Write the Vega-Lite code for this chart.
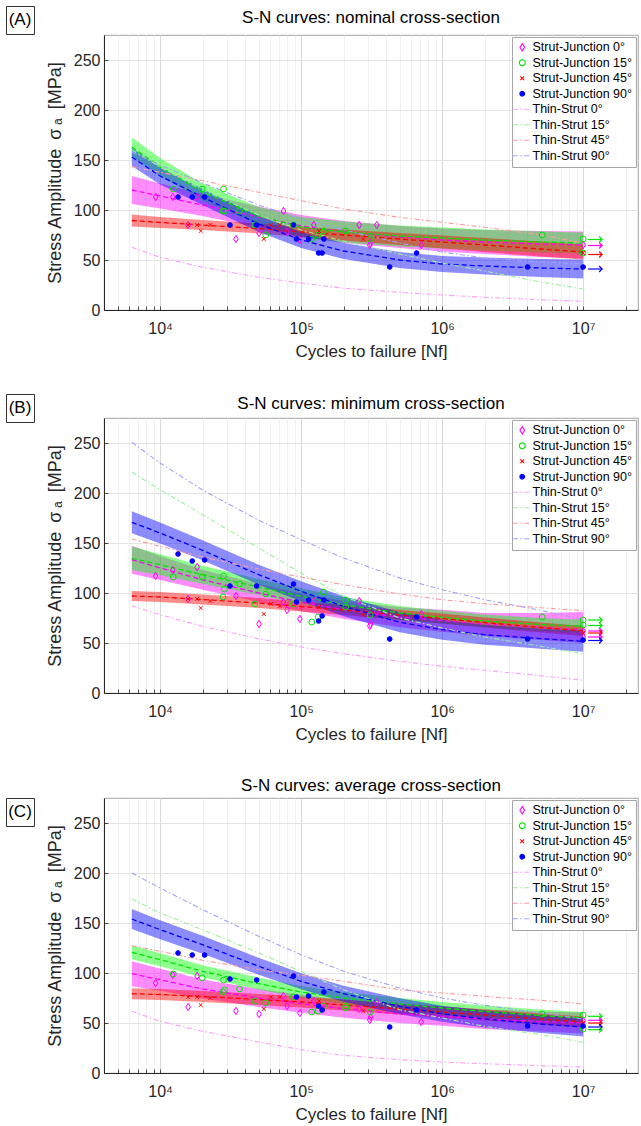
{
"$schema": "https://vega.github.io/schema/vega-lite/v6.json",
"padding": {"left": 5, "top": 5, "right": 0, "bottom": 0},
"config": {
 "font": "Liberation Sans",
 "view": {"stroke": "#8c8c8c", "strokeWidth": 0.8},
 "title": {"fontSize": 17, "fontWeight": "normal", "offset": 3, "color": "#000000", "font": "Liberation Sans"},
 "axis": {"labelFontSize": 16, "titleFontSize": 17, "titleFontWeight": "normal", "labelColor": "#262626", "titleColor": "#262626", "domainColor": "#262626", "ticks": true, "tickSize": -4, "tickColor": "#262626", "tickWidth": 0.8, "gridColor": "#e3e3e3", "labelFont": "Liberation Sans", "titleFont": "Liberation Sans"},
 "axisX": {"labelPadding": 14, "titlePadding": 7},
 "axisY": {"labelPadding": 8, "titlePadding": 9, "titleFontSize": 18},
 "legend": {"orient": "top-right", "offset": 2, "fillColor": "#ffffff", "strokeColor": "#a6a6a6", "padding": 4, "labelFontSize": 12.5, "labelColor": "#000000", "rowPadding": 2.5, "symbolStrokeWidth": 1.1, "labelOffset": 4, "labelFont": "Liberation Sans"}
},
"datasets": {
"pts": [
{"p":"A","series":"Strut-Junction 0°","N":9300,"s":113},{"p":"A","series":"Strut-Junction 0°","N":12300,"s":113},{"p":"A","series":"Strut-Junction 0°","N":15800,"s":85},{"p":"A","series":"Strut-Junction 0°","N":18300,"s":113},{"p":"A","series":"Strut-Junction 0°","N":34500,"s":71},{"p":"A","series":"Strut-Junction 0°","N":50300,"s":77},{"p":"A","series":"Strut-Junction 0°","N":75000,"s":99},{"p":"A","series":"Strut-Junction 0°","N":79500,"s":78},{"p":"A","series":"Strut-Junction 0°","N":98000,"s":70},{"p":"A","series":"Strut-Junction 0°","N":123000,"s":85},{"p":"A","series":"Strut-Junction 0°","N":258000,"s":85},{"p":"A","series":"Strut-Junction 0°","N":344000,"s":85},{"p":"A","series":"Strut-Junction 0°","N":307000,"s":65},{"p":"A","series":"Strut-Junction 0°","N":311000,"s":67},{"p":"A","series":"Strut-Junction 0°","N":711000,"s":65},{"p":"A","series":"Strut-Junction 0°","N":10000000,"s":65},
{"p":"A","series":"Strut-Junction 15°","N":12400,"s":121},{"p":"A","series":"Strut-Junction 15°","N":19900,"s":121},{"p":"A","series":"Strut-Junction 15°","N":28200,"s":121},{"p":"A","series":"Strut-Junction 15°","N":27900,"s":99},{"p":"A","series":"Strut-Junction 15°","N":28600,"s":99},{"p":"A","series":"Strut-Junction 15°","N":36600,"s":99},{"p":"A","series":"Strut-Junction 15°","N":47000,"s":85},{"p":"A","series":"Strut-Junction 15°","N":56100,"s":75},{"p":"A","series":"Strut-Junction 15°","N":88000,"s":85},{"p":"A","series":"Strut-Junction 15°","N":119000,"s":71},{"p":"A","series":"Strut-Junction 15°","N":132000,"s":75},{"p":"A","series":"Strut-Junction 15°","N":144000,"s":79},{"p":"A","series":"Strut-Junction 15°","N":207000,"s":79},{"p":"A","series":"Strut-Junction 15°","N":309000,"s":71},{"p":"A","series":"Strut-Junction 15°","N":5130000,"s":75},{"p":"A","series":"Strut-Junction 15°","N":10000000,"s":71},{"p":"A","series":"Strut-Junction 15°","N":10000000,"s":57},
{"p":"A","series":"Strut-Junction 45°","N":15800,"s":85},{"p":"A","series":"Strut-Junction 45°","N":18300,"s":85},{"p":"A","series":"Strut-Junction 45°","N":19400,"s":79},{"p":"A","series":"Strut-Junction 45°","N":22700,"s":85},{"p":"A","series":"Strut-Junction 45°","N":54300,"s":71},{"p":"A","series":"Strut-Junction 45°","N":61000,"s":85},{"p":"A","series":"Strut-Junction 45°","N":70600,"s":85},{"p":"A","series":"Strut-Junction 45°","N":134000,"s":79},{"p":"A","series":"Strut-Junction 45°","N":276000,"s":71},{"p":"A","series":"Strut-Junction 45°","N":10000000,"s":57},
{"p":"A","series":"Strut-Junction 90°","N":13400,"s":113},{"p":"A","series":"Strut-Junction 90°","N":16900,"s":113},{"p":"A","series":"Strut-Junction 90°","N":20700,"s":113},{"p":"A","series":"Strut-Junction 90°","N":31300,"s":85},{"p":"A","series":"Strut-Junction 90°","N":48400,"s":85},{"p":"A","series":"Strut-Junction 90°","N":88300,"s":85},{"p":"A","series":"Strut-Junction 90°","N":92700,"s":71},{"p":"A","series":"Strut-Junction 90°","N":113000,"s":71},{"p":"A","series":"Strut-Junction 90°","N":145000,"s":71},{"p":"A","series":"Strut-Junction 90°","N":133000,"s":57},{"p":"A","series":"Strut-Junction 90°","N":141000,"s":57},{"p":"A","series":"Strut-Junction 90°","N":425000,"s":43},{"p":"A","series":"Strut-Junction 90°","N":659000,"s":57},{"p":"A","series":"Strut-Junction 90°","N":4040000,"s":43},{"p":"A","series":"Strut-Junction 90°","N":10000000,"s":43},
{"p":"B","series":"Strut-Junction 0°","N":9300,"s":117},{"p":"B","series":"Strut-Junction 0°","N":12300,"s":123},{"p":"B","series":"Strut-Junction 0°","N":15800,"s":94},{"p":"B","series":"Strut-Junction 0°","N":18300,"s":126},{"p":"B","series":"Strut-Junction 0°","N":34500,"s":97},{"p":"B","series":"Strut-Junction 0°","N":50300,"s":69},{"p":"B","series":"Strut-Junction 0°","N":75000,"s":91},{"p":"B","series":"Strut-Junction 0°","N":79500,"s":83},{"p":"B","series":"Strut-Junction 0°","N":98000,"s":74},{"p":"B","series":"Strut-Junction 0°","N":123000,"s":92},{"p":"B","series":"Strut-Junction 0°","N":258000,"s":92},{"p":"B","series":"Strut-Junction 0°","N":344000,"s":81},{"p":"B","series":"Strut-Junction 0°","N":307000,"s":67},{"p":"B","series":"Strut-Junction 0°","N":311000,"s":69},{"p":"B","series":"Strut-Junction 0°","N":711000,"s":79},{"p":"B","series":"Strut-Junction 0°","N":10000000,"s":62},{"p":"B","series":"Strut-Junction 0°","N":10000000,"s":56},
{"p":"B","series":"Strut-Junction 15°","N":12400,"s":116},{"p":"B","series":"Strut-Junction 15°","N":19900,"s":116},{"p":"B","series":"Strut-Junction 15°","N":28200,"s":117},{"p":"B","series":"Strut-Junction 15°","N":27900,"s":96},{"p":"B","series":"Strut-Junction 15°","N":28600,"s":104},{"p":"B","series":"Strut-Junction 15°","N":36600,"s":109},{"p":"B","series":"Strut-Junction 15°","N":47000,"s":89},{"p":"B","series":"Strut-Junction 15°","N":56100,"s":99},{"p":"B","series":"Strut-Junction 15°","N":88000,"s":89},{"p":"B","series":"Strut-Junction 15°","N":119000,"s":71},{"p":"B","series":"Strut-Junction 15°","N":132000,"s":76},{"p":"B","series":"Strut-Junction 15°","N":144000,"s":101},{"p":"B","series":"Strut-Junction 15°","N":207000,"s":93},{"p":"B","series":"Strut-Junction 15°","N":207000,"s":86},{"p":"B","series":"Strut-Junction 15°","N":309000,"s":78},{"p":"B","series":"Strut-Junction 15°","N":5130000,"s":76},{"p":"B","series":"Strut-Junction 15°","N":10000000,"s":73},{"p":"B","series":"Strut-Junction 15°","N":10000000,"s":68},
{"p":"B","series":"Strut-Junction 45°","N":15800,"s":94},{"p":"B","series":"Strut-Junction 45°","N":18300,"s":94},{"p":"B","series":"Strut-Junction 45°","N":19400,"s":85},{"p":"B","series":"Strut-Junction 45°","N":22700,"s":92},{"p":"B","series":"Strut-Junction 45°","N":54300,"s":79},{"p":"B","series":"Strut-Junction 45°","N":61000,"s":89},{"p":"B","series":"Strut-Junction 45°","N":70600,"s":87},{"p":"B","series":"Strut-Junction 45°","N":134000,"s":86},{"p":"B","series":"Strut-Junction 45°","N":276000,"s":78},{"p":"B","series":"Strut-Junction 45°","N":10000000,"s":60},
{"p":"B","series":"Strut-Junction 90°","N":13400,"s":139},{"p":"B","series":"Strut-Junction 90°","N":16900,"s":132},{"p":"B","series":"Strut-Junction 90°","N":20700,"s":133},{"p":"B","series":"Strut-Junction 90°","N":31300,"s":107},{"p":"B","series":"Strut-Junction 90°","N":48400,"s":107},{"p":"B","series":"Strut-Junction 90°","N":88300,"s":109},{"p":"B","series":"Strut-Junction 90°","N":92700,"s":91},{"p":"B","series":"Strut-Junction 90°","N":113000,"s":93},{"p":"B","series":"Strut-Junction 90°","N":145000,"s":93},{"p":"B","series":"Strut-Junction 90°","N":133000,"s":72},{"p":"B","series":"Strut-Junction 90°","N":141000,"s":77},{"p":"B","series":"Strut-Junction 90°","N":425000,"s":54},{"p":"B","series":"Strut-Junction 90°","N":659000,"s":76},{"p":"B","series":"Strut-Junction 90°","N":4040000,"s":54},{"p":"B","series":"Strut-Junction 90°","N":10000000,"s":53},
{"p":"C","series":"Strut-Junction 0°","N":9300,"s":90},{"p":"C","series":"Strut-Junction 0°","N":12300,"s":98},{"p":"C","series":"Strut-Junction 0°","N":15800,"s":66},{"p":"C","series":"Strut-Junction 0°","N":18300,"s":97},{"p":"C","series":"Strut-Junction 0°","N":34500,"s":62},{"p":"C","series":"Strut-Junction 0°","N":50300,"s":59},{"p":"C","series":"Strut-Junction 0°","N":75000,"s":77},{"p":"C","series":"Strut-Junction 0°","N":79500,"s":67},{"p":"C","series":"Strut-Junction 0°","N":98000,"s":60},{"p":"C","series":"Strut-Junction 0°","N":123000,"s":72},{"p":"C","series":"Strut-Junction 0°","N":258000,"s":64},{"p":"C","series":"Strut-Junction 0°","N":344000,"s":71},{"p":"C","series":"Strut-Junction 0°","N":307000,"s":53},{"p":"C","series":"Strut-Junction 0°","N":311000,"s":56},{"p":"C","series":"Strut-Junction 0°","N":711000,"s":51},{"p":"C","series":"Strut-Junction 0°","N":10000000,"s":52},
{"p":"C","series":"Strut-Junction 15°","N":12400,"s":99},{"p":"C","series":"Strut-Junction 15°","N":19900,"s":95},{"p":"C","series":"Strut-Junction 15°","N":28200,"s":93},{"p":"C","series":"Strut-Junction 15°","N":27900,"s":81},{"p":"C","series":"Strut-Junction 15°","N":28600,"s":83},{"p":"C","series":"Strut-Junction 15°","N":36600,"s":84},{"p":"C","series":"Strut-Junction 15°","N":47000,"s":72},{"p":"C","series":"Strut-Junction 15°","N":56100,"s":70},{"p":"C","series":"Strut-Junction 15°","N":88000,"s":76},{"p":"C","series":"Strut-Junction 15°","N":119000,"s":61},{"p":"C","series":"Strut-Junction 15°","N":132000,"s":62},{"p":"C","series":"Strut-Junction 15°","N":144000,"s":67},{"p":"C","series":"Strut-Junction 15°","N":207000,"s":67},{"p":"C","series":"Strut-Junction 15°","N":207000,"s":65},{"p":"C","series":"Strut-Junction 15°","N":309000,"s":61},{"p":"C","series":"Strut-Junction 15°","N":5130000,"s":59},{"p":"C","series":"Strut-Junction 15°","N":10000000,"s":58},{"p":"C","series":"Strut-Junction 15°","N":10000000,"s":44},
{"p":"C","series":"Strut-Junction 45°","N":15800,"s":76},{"p":"C","series":"Strut-Junction 45°","N":18300,"s":76},{"p":"C","series":"Strut-Junction 45°","N":19400,"s":68},{"p":"C","series":"Strut-Junction 45°","N":22700,"s":75},{"p":"C","series":"Strut-Junction 45°","N":54300,"s":64},{"p":"C","series":"Strut-Junction 45°","N":61000,"s":76},{"p":"C","series":"Strut-Junction 45°","N":70600,"s":76},{"p":"C","series":"Strut-Junction 45°","N":134000,"s":72},{"p":"C","series":"Strut-Junction 45°","N":276000,"s":62},{"p":"C","series":"Strut-Junction 45°","N":10000000,"s":50},
{"p":"C","series":"Strut-Junction 90°","N":13400,"s":120},{"p":"C","series":"Strut-Junction 90°","N":16900,"s":118},{"p":"C","series":"Strut-Junction 90°","N":20700,"s":118},{"p":"C","series":"Strut-Junction 90°","N":31300,"s":94},{"p":"C","series":"Strut-Junction 90°","N":48400,"s":93},{"p":"C","series":"Strut-Junction 90°","N":88300,"s":97},{"p":"C","series":"Strut-Junction 90°","N":92700,"s":76},{"p":"C","series":"Strut-Junction 90°","N":113000,"s":77},{"p":"C","series":"Strut-Junction 90°","N":145000,"s":81},{"p":"C","series":"Strut-Junction 90°","N":133000,"s":67},{"p":"C","series":"Strut-Junction 90°","N":141000,"s":63},{"p":"C","series":"Strut-Junction 90°","N":425000,"s":46},{"p":"C","series":"Strut-Junction 90°","N":659000,"s":63},{"p":"C","series":"Strut-Junction 90°","N":4040000,"s":47},{"p":"C","series":"Strut-Junction 90°","N":10000000,"s":47}
],
"fit": [
{"p":"A","series":"Strut-Junction 0°","N":6300,"s":120,"lo":106,"hi":134},{"p":"A","series":"Strut-Junction 0°","N":10000,"s":114,"lo":101.5,"hi":126.5},{"p":"A","series":"Strut-Junction 0°","N":20000,"s":105,"lo":94,"hi":116},{"p":"A","series":"Strut-Junction 0°","N":50000,"s":93,"lo":82.5,"hi":103.5},{"p":"A","series":"Strut-Junction 0°","N":100000,"s":84,"lo":73,"hi":95},{"p":"A","series":"Strut-Junction 0°","N":200000,"s":78,"lo":67,"hi":89},{"p":"A","series":"Strut-Junction 0°","N":500000,"s":73,"lo":62,"hi":84},{"p":"A","series":"Strut-Junction 0°","N":1000000,"s":70,"lo":58.5,"hi":81.5},{"p":"A","series":"Strut-Junction 0°","N":2000000,"s":68,"lo":56,"hi":80},{"p":"A","series":"Strut-Junction 0°","N":5000000,"s":66,"lo":53,"hi":79},{"p":"A","series":"Strut-Junction 0°","N":10000000,"s":65,"lo":51.5,"hi":78.5},
{"p":"A","series":"Strut-Junction 15°","N":6300,"s":163,"lo":153.5,"hi":172.5},{"p":"A","series":"Strut-Junction 15°","N":10000,"s":143,"lo":134,"hi":152},{"p":"A","series":"Strut-Junction 15°","N":20000,"s":118,"lo":109.5,"hi":126.5},{"p":"A","series":"Strut-Junction 15°","N":50000,"s":94,"lo":85,"hi":103},{"p":"A","series":"Strut-Junction 15°","N":100000,"s":83,"lo":73,"hi":93},{"p":"A","series":"Strut-Junction 15°","N":200000,"s":78,"lo":67.5,"hi":88.5},{"p":"A","series":"Strut-Junction 15°","N":500000,"s":74,"lo":63.5,"hi":84.5},{"p":"A","series":"Strut-Junction 15°","N":1000000,"s":72,"lo":61.5,"hi":82.5},{"p":"A","series":"Strut-Junction 15°","N":2000000,"s":70,"lo":59.5,"hi":80.5},{"p":"A","series":"Strut-Junction 15°","N":5000000,"s":68,"lo":57.5,"hi":78.5},{"p":"A","series":"Strut-Junction 15°","N":10000000,"s":67,"lo":56.5,"hi":77.5},
{"p":"A","series":"Strut-Junction 45°","N":6300,"s":89.5,"lo":83.5,"hi":95.5},{"p":"A","series":"Strut-Junction 45°","N":10000,"s":87.5,"lo":82,"hi":93},{"p":"A","series":"Strut-Junction 45°","N":20000,"s":85,"lo":80,"hi":90},{"p":"A","series":"Strut-Junction 45°","N":50000,"s":81.5,"lo":76.5,"hi":86.5},{"p":"A","series":"Strut-Junction 45°","N":100000,"s":78,"lo":73,"hi":83},{"p":"A","series":"Strut-Junction 45°","N":200000,"s":75,"lo":69.5,"hi":80.5},{"p":"A","series":"Strut-Junction 45°","N":500000,"s":71,"lo":65,"hi":77},{"p":"A","series":"Strut-Junction 45°","N":1000000,"s":68,"lo":61.5,"hi":74.5},{"p":"A","series":"Strut-Junction 45°","N":2000000,"s":65,"lo":58,"hi":72},{"p":"A","series":"Strut-Junction 45°","N":5000000,"s":61,"lo":53.5,"hi":68.5},{"p":"A","series":"Strut-Junction 45°","N":10000000,"s":58,"lo":50.5,"hi":65.5},
{"p":"A","series":"Strut-Junction 90°","N":6300,"s":153,"lo":144,"hi":162},{"p":"A","series":"Strut-Junction 90°","N":10000,"s":134,"lo":125.5,"hi":142.5},{"p":"A","series":"Strut-Junction 90°","N":20000,"s":113,"lo":105,"hi":121},{"p":"A","series":"Strut-Junction 90°","N":50000,"s":86,"lo":78,"hi":94},{"p":"A","series":"Strut-Junction 90°","N":100000,"s":70,"lo":62,"hi":78},{"p":"A","series":"Strut-Junction 90°","N":200000,"s":59,"lo":51,"hi":67},{"p":"A","series":"Strut-Junction 90°","N":500000,"s":50,"lo":42,"hi":58},{"p":"A","series":"Strut-Junction 90°","N":1000000,"s":46,"lo":38,"hi":54},{"p":"A","series":"Strut-Junction 90°","N":2000000,"s":44,"lo":35.5,"hi":52.5},{"p":"A","series":"Strut-Junction 90°","N":5000000,"s":42,"lo":33,"hi":51},{"p":"A","series":"Strut-Junction 90°","N":10000000,"s":41,"lo":31.5,"hi":50.5},
{"p":"B","series":"Strut-Junction 0°","N":6300,"s":133.3,"lo":119.3,"hi":147.3},{"p":"B","series":"Strut-Junction 0°","N":10000,"s":125,"lo":113,"hi":137},{"p":"B","series":"Strut-Junction 0°","N":20000,"s":113.3,"lo":103.3,"hi":123.3},{"p":"B","series":"Strut-Junction 0°","N":50000,"s":100,"lo":91,"hi":109},{"p":"B","series":"Strut-Junction 0°","N":100000,"s":90.7,"lo":81.7,"hi":99.7},{"p":"B","series":"Strut-Junction 0°","N":200000,"s":83.3,"lo":74.3,"hi":92.3},{"p":"B","series":"Strut-Junction 0°","N":500000,"s":75.7,"lo":65.7,"hi":85.7},{"p":"B","series":"Strut-Junction 0°","N":1000000,"s":72.3,"lo":61.3,"hi":83.3},{"p":"B","series":"Strut-Junction 0°","N":2000000,"s":69,"lo":57,"hi":80},{"p":"B","series":"Strut-Junction 0°","N":5000000,"s":65.5,"lo":53,"hi":80},{"p":"B","series":"Strut-Junction 0°","N":10000000,"s":63.3,"lo":50,"hi":81},
{"p":"B","series":"Strut-Junction 15°","N":6300,"s":134.7,"lo":122.7,"hi":146.7},{"p":"B","series":"Strut-Junction 15°","N":10000,"s":128.3,"lo":117.8,"hi":138.8},{"p":"B","series":"Strut-Junction 15°","N":20000,"s":118.3,"lo":109.3,"hi":127.3},{"p":"B","series":"Strut-Junction 15°","N":50000,"s":106,"lo":98,"hi":114},{"p":"B","series":"Strut-Junction 15°","N":100000,"s":96.7,"lo":88.7,"hi":104.7},{"p":"B","series":"Strut-Junction 15°","N":200000,"s":88.3,"lo":80.8,"hi":95.8},{"p":"B","series":"Strut-Junction 15°","N":500000,"s":80,"lo":73,"hi":87},{"p":"B","series":"Strut-Junction 15°","N":1000000,"s":75.7,"lo":69.2,"hi":82.2},{"p":"B","series":"Strut-Junction 15°","N":2000000,"s":72,"lo":65.5,"hi":78.5},{"p":"B","series":"Strut-Junction 15°","N":5000000,"s":68.5,"lo":62,"hi":75},{"p":"B","series":"Strut-Junction 15°","N":10000000,"s":66.7,"lo":60.2,"hi":73.2},
{"p":"B","series":"Strut-Junction 45°","N":6300,"s":97,"lo":92,"hi":102},{"p":"B","series":"Strut-Junction 45°","N":10000,"s":96,"lo":91,"hi":101},{"p":"B","series":"Strut-Junction 45°","N":20000,"s":93.5,"lo":88.5,"hi":98.5},{"p":"B","series":"Strut-Junction 45°","N":50000,"s":90,"lo":85,"hi":95},{"p":"B","series":"Strut-Junction 45°","N":100000,"s":86.5,"lo":81.5,"hi":91.5},{"p":"B","series":"Strut-Junction 45°","N":200000,"s":83,"lo":78,"hi":88},{"p":"B","series":"Strut-Junction 45°","N":500000,"s":78,"lo":73,"hi":83},{"p":"B","series":"Strut-Junction 45°","N":1000000,"s":74.5,"lo":69.5,"hi":79.5},{"p":"B","series":"Strut-Junction 45°","N":2000000,"s":70.5,"lo":65.5,"hi":75.5},{"p":"B","series":"Strut-Junction 45°","N":5000000,"s":65.5,"lo":60.5,"hi":70.5},{"p":"B","series":"Strut-Junction 45°","N":10000000,"s":62,"lo":57,"hi":67},
{"p":"B","series":"Strut-Junction 90°","N":6300,"s":170.7,"lo":159.7,"hi":181.7},{"p":"B","series":"Strut-Junction 90°","N":10000,"s":160,"lo":149.5,"hi":170.5},{"p":"B","series":"Strut-Junction 90°","N":20000,"s":142.7,"lo":132.7,"hi":152.7},{"p":"B","series":"Strut-Junction 90°","N":50000,"s":118.3,"lo":108.3,"hi":128.3},{"p":"B","series":"Strut-Junction 90°","N":100000,"s":101.7,"lo":91.7,"hi":111.7},{"p":"B","series":"Strut-Junction 90°","N":200000,"s":86.7,"lo":76.7,"hi":96.7},{"p":"B","series":"Strut-Junction 90°","N":500000,"s":70.7,"lo":60.7,"hi":80.7},{"p":"B","series":"Strut-Junction 90°","N":1000000,"s":63.3,"lo":53.3,"hi":73.3},{"p":"B","series":"Strut-Junction 90°","N":2000000,"s":58.3,"lo":48.3,"hi":68.3},{"p":"B","series":"Strut-Junction 90°","N":5000000,"s":54.3,"lo":44.3,"hi":64.3},{"p":"B","series":"Strut-Junction 90°","N":10000000,"s":51.7,"lo":41.2,"hi":62.2},
{"p":"C","series":"Strut-Junction 0°","N":6300,"s":99.3,"lo":86.8,"hi":111.8},{"p":"C","series":"Strut-Junction 0°","N":10000,"s":93.3,"lo":82.3,"hi":104.3},{"p":"C","series":"Strut-Junction 0°","N":20000,"s":84,"lo":74.5,"hi":93.5},{"p":"C","series":"Strut-Junction 0°","N":50000,"s":75,"lo":66,"hi":84},{"p":"C","series":"Strut-Junction 0°","N":100000,"s":69.3,"lo":60.3,"hi":78.3},{"p":"C","series":"Strut-Junction 0°","N":200000,"s":64.3,"lo":55.3,"hi":73.3},{"p":"C","series":"Strut-Junction 0°","N":500000,"s":59,"lo":50,"hi":68},{"p":"C","series":"Strut-Junction 0°","N":1000000,"s":56.7,"lo":47.2,"hi":66.2},{"p":"C","series":"Strut-Junction 0°","N":2000000,"s":54,"lo":44,"hi":64},{"p":"C","series":"Strut-Junction 0°","N":5000000,"s":51.5,"lo":41.5,"hi":61.5},{"p":"C","series":"Strut-Junction 0°","N":10000000,"s":50,"lo":39.5,"hi":60.5},
{"p":"C","series":"Strut-Junction 15°","N":6300,"s":120.7,"lo":113.7,"hi":127.7},{"p":"C","series":"Strut-Junction 15°","N":10000,"s":113.3,"lo":106.8,"hi":119.8},{"p":"C","series":"Strut-Junction 15°","N":20000,"s":101.7,"lo":95.7,"hi":107.7},{"p":"C","series":"Strut-Junction 15°","N":50000,"s":89.3,"lo":83.3,"hi":95.3},{"p":"C","series":"Strut-Junction 15°","N":100000,"s":81,"lo":75,"hi":87},{"p":"C","series":"Strut-Junction 15°","N":200000,"s":75,"lo":69,"hi":81},{"p":"C","series":"Strut-Junction 15°","N":500000,"s":69,"lo":63,"hi":75},{"p":"C","series":"Strut-Junction 15°","N":1000000,"s":65,"lo":59,"hi":71},{"p":"C","series":"Strut-Junction 15°","N":2000000,"s":61.5,"lo":55.5,"hi":67.5},{"p":"C","series":"Strut-Junction 15°","N":5000000,"s":57.5,"lo":51.5,"hi":63.5},{"p":"C","series":"Strut-Junction 15°","N":10000000,"s":55,"lo":49,"hi":61},
{"p":"C","series":"Strut-Junction 45°","N":6300,"s":79.3,"lo":73.8,"hi":84.8},{"p":"C","series":"Strut-Junction 45°","N":10000,"s":78.5,"lo":73,"hi":84},{"p":"C","series":"Strut-Junction 45°","N":20000,"s":76.5,"lo":71,"hi":82},{"p":"C","series":"Strut-Junction 45°","N":50000,"s":73.5,"lo":68,"hi":79},{"p":"C","series":"Strut-Junction 45°","N":100000,"s":71,"lo":65.5,"hi":76.5},{"p":"C","series":"Strut-Junction 45°","N":200000,"s":68,"lo":62.5,"hi":73.5},{"p":"C","series":"Strut-Junction 45°","N":500000,"s":64,"lo":58.5,"hi":69.5},{"p":"C","series":"Strut-Junction 45°","N":1000000,"s":61,"lo":55.5,"hi":66.5},{"p":"C","series":"Strut-Junction 45°","N":2000000,"s":58,"lo":52.5,"hi":63.5},{"p":"C","series":"Strut-Junction 45°","N":5000000,"s":54,"lo":48.5,"hi":59.5},{"p":"C","series":"Strut-Junction 45°","N":10000000,"s":51,"lo":45.5,"hi":56.5},
{"p":"C","series":"Strut-Junction 90°","N":6300,"s":154,"lo":144,"hi":164},{"p":"C","series":"Strut-Junction 90°","N":10000,"s":143.3,"lo":133.8,"hi":152.8},{"p":"C","series":"Strut-Junction 90°","N":20000,"s":128.3,"lo":119.3,"hi":137.3},{"p":"C","series":"Strut-Junction 90°","N":50000,"s":106.7,"lo":98.2,"hi":115.2},{"p":"C","series":"Strut-Junction 90°","N":100000,"s":91.7,"lo":83.7,"hi":99.7},{"p":"C","series":"Strut-Junction 90°","N":200000,"s":79.3,"lo":71.3,"hi":87.3},{"p":"C","series":"Strut-Junction 90°","N":500000,"s":66.7,"lo":58.7,"hi":74.7},{"p":"C","series":"Strut-Junction 90°","N":1000000,"s":59.3,"lo":51.3,"hi":67.3},{"p":"C","series":"Strut-Junction 90°","N":2000000,"s":54,"lo":45.5,"hi":62.5},{"p":"C","series":"Strut-Junction 90°","N":5000000,"s":49,"lo":40,"hi":58},{"p":"C","series":"Strut-Junction 90°","N":10000000,"s":46,"lo":36.5,"hi":55.5}
],
"ts": [
{"p":"A","series":"Thin-Strut 0°","N":6300,"s":62.7},{"p":"A","series":"Thin-Strut 0°","N":10000,"s":52.7},{"p":"A","series":"Thin-Strut 0°","N":20000,"s":42.7},{"p":"A","series":"Thin-Strut 0°","N":50000,"s":32.7},{"p":"A","series":"Thin-Strut 0°","N":100000,"s":27},{"p":"A","series":"Thin-Strut 0°","N":200000,"s":21.7},{"p":"A","series":"Thin-Strut 0°","N":500000,"s":17.7},{"p":"A","series":"Thin-Strut 0°","N":1000000,"s":15},{"p":"A","series":"Thin-Strut 0°","N":2000000,"s":12.7},{"p":"A","series":"Thin-Strut 0°","N":5000000,"s":10.3},{"p":"A","series":"Thin-Strut 0°","N":10000000,"s":8.7},
{"p":"A","series":"Thin-Strut 15°","N":6300,"s":160},{"p":"A","series":"Thin-Strut 15°","N":10000,"s":143},{"p":"A","series":"Thin-Strut 15°","N":20000,"s":120},{"p":"A","series":"Thin-Strut 15°","N":50000,"s":95},{"p":"A","series":"Thin-Strut 15°","N":100000,"s":80},{"p":"A","series":"Thin-Strut 15°","N":200000,"s":69},{"p":"A","series":"Thin-Strut 15°","N":500000,"s":56},{"p":"A","series":"Thin-Strut 15°","N":1000000,"s":47},{"p":"A","series":"Thin-Strut 15°","N":2000000,"s":39},{"p":"A","series":"Thin-Strut 15°","N":5000000,"s":28},{"p":"A","series":"Thin-Strut 15°","N":10000000,"s":21},
{"p":"A","series":"Thin-Strut 45°","N":6300,"s":143.3},{"p":"A","series":"Thin-Strut 45°","N":10000,"s":137.7},{"p":"A","series":"Thin-Strut 45°","N":20000,"s":129.3},{"p":"A","series":"Thin-Strut 45°","N":50000,"s":117.7},{"p":"A","series":"Thin-Strut 45°","N":100000,"s":109.3},{"p":"A","series":"Thin-Strut 45°","N":200000,"s":101},{"p":"A","series":"Thin-Strut 45°","N":500000,"s":92.7},{"p":"A","series":"Thin-Strut 45°","N":1000000,"s":87.7},{"p":"A","series":"Thin-Strut 45°","N":2000000,"s":82.7},{"p":"A","series":"Thin-Strut 45°","N":5000000,"s":75.3},{"p":"A","series":"Thin-Strut 45°","N":10000000,"s":66.7},
{"p":"A","series":"Thin-Strut 90°","N":6300,"s":158},{"p":"A","series":"Thin-Strut 90°","N":10000,"s":145},{"p":"A","series":"Thin-Strut 90°","N":20000,"s":127},{"p":"A","series":"Thin-Strut 90°","N":50000,"s":105},{"p":"A","series":"Thin-Strut 90°","N":100000,"s":91},{"p":"A","series":"Thin-Strut 90°","N":200000,"s":80},{"p":"A","series":"Thin-Strut 90°","N":500000,"s":67},{"p":"A","series":"Thin-Strut 90°","N":1000000,"s":58},{"p":"A","series":"Thin-Strut 90°","N":2000000,"s":52},{"p":"A","series":"Thin-Strut 90°","N":5000000,"s":48},{"p":"A","series":"Thin-Strut 90°","N":10000000,"s":46},
{"p":"B","series":"Thin-Strut 0°","N":6300,"s":87.3},{"p":"B","series":"Thin-Strut 0°","N":10000,"s":78.3},{"p":"B","series":"Thin-Strut 0°","N":20000,"s":66.7},{"p":"B","series":"Thin-Strut 0°","N":50000,"s":54.3},{"p":"B","series":"Thin-Strut 0°","N":100000,"s":46},{"p":"B","series":"Thin-Strut 0°","N":200000,"s":39.3},{"p":"B","series":"Thin-Strut 0°","N":500000,"s":31.7},{"p":"B","series":"Thin-Strut 0°","N":1000000,"s":26.7},{"p":"B","series":"Thin-Strut 0°","N":2000000,"s":22.7},{"p":"B","series":"Thin-Strut 0°","N":5000000,"s":17.3},{"p":"B","series":"Thin-Strut 0°","N":10000000,"s":12.7},
{"p":"B","series":"Thin-Strut 15°","N":6300,"s":220.7},{"p":"B","series":"Thin-Strut 15°","N":10000,"s":203.3},{"p":"B","series":"Thin-Strut 15°","N":20000,"s":178.3},{"p":"B","series":"Thin-Strut 15°","N":50000,"s":145},{"p":"B","series":"Thin-Strut 15°","N":100000,"s":120},{"p":"B","series":"Thin-Strut 15°","N":200000,"s":96.7},{"p":"B","series":"Thin-Strut 15°","N":500000,"s":75},{"p":"B","series":"Thin-Strut 15°","N":1000000,"s":65},{"p":"B","series":"Thin-Strut 15°","N":2000000,"s":56},{"p":"B","series":"Thin-Strut 15°","N":5000000,"s":46.7},{"p":"B","series":"Thin-Strut 15°","N":10000000,"s":39.3},
{"p":"B","series":"Thin-Strut 45°","N":6300,"s":154},{"p":"B","series":"Thin-Strut 45°","N":10000,"s":146.7},{"p":"B","series":"Thin-Strut 45°","N":20000,"s":136},{"p":"B","series":"Thin-Strut 45°","N":50000,"s":124},{"p":"B","series":"Thin-Strut 45°","N":100000,"s":116},{"p":"B","series":"Thin-Strut 45°","N":200000,"s":108.3},{"p":"B","series":"Thin-Strut 45°","N":500000,"s":99},{"p":"B","series":"Thin-Strut 45°","N":1000000,"s":93.3},{"p":"B","series":"Thin-Strut 45°","N":2000000,"s":89.3},{"p":"B","series":"Thin-Strut 45°","N":5000000,"s":85.3},{"p":"B","series":"Thin-Strut 45°","N":10000000,"s":82.3},
{"p":"B","series":"Thin-Strut 90°","N":6300,"s":250.7},{"p":"B","series":"Thin-Strut 90°","N":10000,"s":230},{"p":"B","series":"Thin-Strut 90°","N":20000,"s":203},{"p":"B","series":"Thin-Strut 90°","N":50000,"s":172.7},{"p":"B","series":"Thin-Strut 90°","N":100000,"s":153.3},{"p":"B","series":"Thin-Strut 90°","N":200000,"s":135},{"p":"B","series":"Thin-Strut 90°","N":500000,"s":115},{"p":"B","series":"Thin-Strut 90°","N":1000000,"s":103.3},{"p":"B","series":"Thin-Strut 90°","N":2000000,"s":93.3},{"p":"B","series":"Thin-Strut 90°","N":5000000,"s":82.7},{"p":"B","series":"Thin-Strut 90°","N":10000000,"s":73.3},
{"p":"C","series":"Thin-Strut 0°","N":6300,"s":61.7},{"p":"C","series":"Thin-Strut 0°","N":10000,"s":51.7},{"p":"C","series":"Thin-Strut 0°","N":20000,"s":41.7},{"p":"C","series":"Thin-Strut 0°","N":50000,"s":31},{"p":"C","series":"Thin-Strut 0°","N":100000,"s":23.3},{"p":"C","series":"Thin-Strut 0°","N":200000,"s":17.7},{"p":"C","series":"Thin-Strut 0°","N":500000,"s":13.3},{"p":"C","series":"Thin-Strut 0°","N":1000000,"s":11},{"p":"C","series":"Thin-Strut 0°","N":2000000,"s":9.3},{"p":"C","series":"Thin-Strut 0°","N":5000000,"s":7.3},{"p":"C","series":"Thin-Strut 0°","N":10000000,"s":6},
{"p":"C","series":"Thin-Strut 15°","N":6300,"s":174},{"p":"C","series":"Thin-Strut 15°","N":10000,"s":160},{"p":"C","series":"Thin-Strut 15°","N":20000,"s":143.3},{"p":"C","series":"Thin-Strut 15°","N":50000,"s":120},{"p":"C","series":"Thin-Strut 15°","N":100000,"s":101.7},{"p":"C","series":"Thin-Strut 15°","N":200000,"s":83.3},{"p":"C","series":"Thin-Strut 15°","N":500000,"s":63.3},{"p":"C","series":"Thin-Strut 15°","N":1000000,"s":55},{"p":"C","series":"Thin-Strut 15°","N":2000000,"s":46.7},{"p":"C","series":"Thin-Strut 15°","N":5000000,"s":38.3},{"p":"C","series":"Thin-Strut 15°","N":10000000,"s":30.7},
{"p":"C","series":"Thin-Strut 45°","N":6300,"s":127.3},{"p":"C","series":"Thin-Strut 45°","N":10000,"s":121.7},{"p":"C","series":"Thin-Strut 45°","N":20000,"s":112.7},{"p":"C","series":"Thin-Strut 45°","N":50000,"s":103.3},{"p":"C","series":"Thin-Strut 45°","N":100000,"s":97.7},{"p":"C","series":"Thin-Strut 45°","N":200000,"s":91.7},{"p":"C","series":"Thin-Strut 45°","N":500000,"s":83.3},{"p":"C","series":"Thin-Strut 45°","N":1000000,"s":80},{"p":"C","series":"Thin-Strut 45°","N":2000000,"s":76.7},{"p":"C","series":"Thin-Strut 45°","N":5000000,"s":72.7},{"p":"C","series":"Thin-Strut 45°","N":10000000,"s":69},
{"p":"C","series":"Thin-Strut 90°","N":6300,"s":200},{"p":"C","series":"Thin-Strut 90°","N":10000,"s":185},{"p":"C","series":"Thin-Strut 90°","N":20000,"s":163.3},{"p":"C","series":"Thin-Strut 90°","N":50000,"s":136.7},{"p":"C","series":"Thin-Strut 90°","N":100000,"s":118.3},{"p":"C","series":"Thin-Strut 90°","N":200000,"s":101.7},{"p":"C","series":"Thin-Strut 90°","N":500000,"s":85},{"p":"C","series":"Thin-Strut 90°","N":1000000,"s":75},{"p":"C","series":"Thin-Strut 90°","N":2000000,"s":67.7},{"p":"C","series":"Thin-Strut 90°","N":5000000,"s":60},{"p":"C","series":"Thin-Strut 90°","N":10000000,"s":54}
],
"run": [
{"p":"A","series":"Strut-Junction 15°","N":10000000,"s":70.5},{"p":"A","series":"Strut-Junction 0°","N":10000000,"s":64.5},{"p":"A","series":"Strut-Junction 45°","N":10000000,"s":55.5},{"p":"A","series":"Strut-Junction 90°","N":10000000,"s":41},
{"p":"B","series":"Strut-Junction 15°","N":10000000,"s":73},{"p":"B","series":"Strut-Junction 15°","N":10000000,"s":67.5},{"p":"B","series":"Strut-Junction 0°","N":10000000,"s":62},{"p":"B","series":"Strut-Junction 45°","N":10000000,"s":60},{"p":"B","series":"Strut-Junction 0°","N":10000000,"s":56},{"p":"B","series":"Strut-Junction 90°","N":10000000,"s":52.5},
{"p":"C","series":"Strut-Junction 15°","N":10000000,"s":56.7},{"p":"C","series":"Strut-Junction 0°","N":10000000,"s":52.7},{"p":"C","series":"Strut-Junction 45°","N":10000000,"s":50},{"p":"C","series":"Strut-Junction 90°","N":10000000,"s":46},{"p":"C","series":"Strut-Junction 15°","N":10000000,"s":43.3}
]
},
"resolve": {"scale": {"color": "independent", "fill": "independent", "stroke": "independent", "shape": "independent", "size": "independent", "strokeDash": "independent", "x": "independent", "y": "independent"}, "legend": {"color": "independent", "fill": "independent", "stroke": "independent", "shape": "independent", "size": "independent", "strokeDash": "independent"}},
"spacing": 33,
"vconcat": [
{
 "spacing": 10,
 "resolve": {"scale": {"color": "independent", "fill": "independent", "stroke": "independent", "shape": "independent", "size": "independent", "strokeDash": "independent", "x": "independent", "y": "independent"}, "legend": {"color": "independent", "fill": "independent", "stroke": "independent", "shape": "independent", "size": "independent", "strokeDash": "independent"}},
 "hconcat": [
  {"width": 28, "height": 28, "view": {"stroke": "#333333", "strokeWidth": 1}, "data": {"values": [{"t": "(A)"}]}, "mark": {"type": "text", "fontSize": 17, "font": "Liberation Sans", "align": "center", "baseline": "middle", "color": "#000000"}, "encoding": {"text": {"field": "t", "type": "nominal"}}},
  {
   "spacing": 4,
   "resolve": {"scale": {"color": "independent", "fill": "independent", "stroke": "independent", "shape": "independent", "size": "independent", "strokeDash": "independent", "x": "independent", "y": "independent"}, "legend": {"color": "independent", "fill": "independent", "stroke": "independent", "shape": "independent", "size": "independent", "strokeDash": "independent"}},
   "vconcat": [
    {"width": 534, "height": 24, "view": {"stroke": null}, "data": {"values": [{"t": "S-N curves: nominal cross-section"}]}, "mark": {"type": "text", "fontSize": 17, "font": "Liberation Sans", "align": "center", "baseline": "middle", "color": "#000000"}, "encoding": {"text": {"field": "t", "type": "nominal"}}},
    {
     "width": 534, "height": 275,
     "encoding": {"x": {"field": "N", "type": "quantitative", "scale": {"type": "log", "domain": [4000, 24500000], "nice": false}, "axis": {"title": "Cycles to failure [Nf]", "values": [5000,6000,7000,8000,9000,10000,20000,30000,40000,50000,60000,70000,80000,90000,100000,200000,300000,400000,500000,600000,700000,800000,900000,1000000,2000000,3000000,4000000,5000000,6000000,7000000,8000000,9000000,10000000,20000000], "labelExpr": "datum.value == 10000 ? '10⁴' : datum.value == 100000 ? '10⁵' : datum.value == 1000000 ? '10⁶' : datum.value == 10000000 ? '10⁷' : ''", "labelOverlap": false, "gridColor": {"condition": {"test": "datum.value == 10000 || datum.value == 100000 || datum.value == 1000000 || datum.value == 10000000", "value": "#d9d9d9"}, "value": "#efefef"}}}},
     "layer": [
      {"data": {"name": "fit"}, "transform": [{"filter": "datum.p == 'A'"}], "mark": {"type": "area", "opacity": 0.45}, "encoding": {"y": {"field": "lo", "type": "quantitative", "stack": null, "scale": {"domain": [0, 275], "nice": false}, "axis": {"title": "Stress Amplitude\u2002σ\u2009ₐ\u2002[MPa]", "values": [0,50,100,150,200,250]}}, "y2": {"field": "hi"}, "color": {"field": "series", "type": "nominal", "scale": {"domain": ["Strut-Junction 0°","Strut-Junction 15°","Strut-Junction 45°","Strut-Junction 90°"], "range": ["#ff00ff","#00ff00","#ff0000","#0000ff"]}, "legend": null}}},
      {"data": {"name": "fit"}, "transform": [{"filter": "datum.p == 'A'"}], "mark": {"type": "line", "strokeDash": [5,3], "strokeWidth": 1.3}, "encoding": {"y": {"field": "s", "type": "quantitative", "scale": {"domain": [0, 275], "nice": false}, "axis": {"title": "Stress Amplitude\u2002σ\u2009ₐ\u2002[MPa]", "values": [0,50,100,150,200,250]}}, "stroke": {"field": "series", "type": "nominal", "title": null, "scale": {"domain": ["Strut-Junction 0°","Strut-Junction 15°","Strut-Junction 45°","Strut-Junction 90°","Thin-Strut 0°","Thin-Strut 15°","Thin-Strut 45°","Thin-Strut 90°"], "range": ["#ff00ff","#00e600","#ff0000","#0000ff","#ff9cff","#9cf09c","#ff9c9c","#a0a0ff"]}}}},
      {"data": {"name": "ts"}, "transform": [{"filter": "datum.p == 'A'"}], "mark": {"type": "line", "strokeWidth": 1.1}, "encoding": {"y": {"field": "s", "type": "quantitative"}, "stroke": {"field": "series", "type": "nominal", "title": null}, "strokeDash": {"field": "series", "type": "nominal", "title": null, "scale": {"type": "ordinal", "domain": ["Strut-Junction 0°","Strut-Junction 15°","Strut-Junction 45°","Strut-Junction 90°","Thin-Strut 0°","Thin-Strut 15°","Thin-Strut 45°","Thin-Strut 90°"], "range": [[1,0],[1,0],[1,0],[1,0],[5,2.5,1.5,2.5],[5,2.5,1.5,2.5],[5,2.5,1.5,2.5],[5,2.5,1.5,2.5]]}}}},
      {"data": {"name": "pts"}, "transform": [{"filter": "datum.p == 'A'"}], "mark": {"type": "point", "opacity": 1, "strokeWidth": 1}, "encoding": {"y": {"field": "s", "type": "quantitative"}, "stroke": {"field": "series", "type": "nominal", "title": null}, "fill": {"field": "series", "type": "nominal", "title": null, "scale": {"domain": ["Strut-Junction 0°","Strut-Junction 15°","Strut-Junction 45°","Strut-Junction 90°","Thin-Strut 0°","Thin-Strut 15°","Thin-Strut 45°","Thin-Strut 90°"], "range": ["transparent","transparent","transparent","#0000ff","transparent","transparent","transparent","transparent"]}}, "shape": {"field": "series", "type": "nominal", "title": null, "scale": {"domain": ["Strut-Junction 0°","Strut-Junction 15°","Strut-Junction 45°","Strut-Junction 90°","Thin-Strut 0°","Thin-Strut 15°","Thin-Strut 45°","Thin-Strut 90°"], "range": ["M0,-1L0.62,0L0,1L-0.62,0Z","circle","M-0.7,-0.7L0.7,0.7M-0.7,0.7L0.7,-0.7","circle","M-1.9,0L1.9,0","M-1.9,0L1.9,0","M-1.9,0L1.9,0","M-1.9,0L1.9,0"]}}, "size": {"field": "series", "type": "nominal", "title": null, "scale": {"type": "ordinal", "domain": ["Strut-Junction 0°","Strut-Junction 15°","Strut-Junction 45°","Strut-Junction 90°","Thin-Strut 0°","Thin-Strut 15°","Thin-Strut 45°","Thin-Strut 90°"], "range": [55,34,30,22,100,100,100,100]}}}},
      {"data": {"name": "run"}, "transform": [{"filter": "datum.p == 'A'"}], "mark": {"type": "rule", "xOffset": 5, "x2Offset": 19, "strokeWidth": 1.2}, "encoding": {"x2": {"field": "N"}, "y": {"field": "s", "type": "quantitative"}, "stroke": {"field": "series", "type": "nominal", "title": null}}},
      {"data": {"name": "run"}, "transform": [{"filter": "datum.p == 'A'"}], "mark": {"type": "point", "shape": "M-1,-1L0,0L-1,1", "xOffset": 19, "size": 36, "opacity": 1, "filled": false, "strokeWidth": 1.2}, "encoding": {"y": {"field": "s", "type": "quantitative"}, "stroke": {"field": "series", "type": "nominal", "title": null}}}
     ]
    }
   ]
  }
 ]
},
{
 "spacing": 10,
 "resolve": {"scale": {"color": "independent", "fill": "independent", "stroke": "independent", "shape": "independent", "size": "independent", "strokeDash": "independent", "x": "independent", "y": "independent"}, "legend": {"color": "independent", "fill": "independent", "stroke": "independent", "shape": "independent", "size": "independent", "strokeDash": "independent"}},
 "hconcat": [
  {"width": 28, "height": 28, "view": {"stroke": "#333333", "strokeWidth": 1}, "data": {"values": [{"t": "(B)"}]}, "mark": {"type": "text", "fontSize": 17, "font": "Liberation Sans", "align": "center", "baseline": "middle", "color": "#000000"}, "encoding": {"text": {"field": "t", "type": "nominal"}}},
  {
   "spacing": 3,
   "resolve": {"scale": {"color": "independent", "fill": "independent", "stroke": "independent", "shape": "independent", "size": "independent", "strokeDash": "independent", "x": "independent", "y": "independent"}, "legend": {"color": "independent", "fill": "independent", "stroke": "independent", "shape": "independent", "size": "independent", "strokeDash": "independent"}},
   "vconcat": [
    {"width": 534, "height": 20, "view": {"stroke": null}, "data": {"values": [{"t": "S-N curves: minimum cross-section"}]}, "mark": {"type": "text", "fontSize": 17, "font": "Liberation Sans", "align": "center", "baseline": "middle", "color": "#000000"}, "encoding": {"text": {"field": "t", "type": "nominal"}}},
    {
     "width": 534, "height": 275,
     "encoding": {"x": {"field": "N", "type": "quantitative", "scale": {"type": "log", "domain": [4000, 24500000], "nice": false}, "axis": {"title": "Cycles to failure [Nf]", "values": [5000,6000,7000,8000,9000,10000,20000,30000,40000,50000,60000,70000,80000,90000,100000,200000,300000,400000,500000,600000,700000,800000,900000,1000000,2000000,3000000,4000000,5000000,6000000,7000000,8000000,9000000,10000000,20000000], "labelExpr": "datum.value == 10000 ? '10⁴' : datum.value == 100000 ? '10⁵' : datum.value == 1000000 ? '10⁶' : datum.value == 10000000 ? '10⁷' : ''", "labelOverlap": false, "gridColor": {"condition": {"test": "datum.value == 10000 || datum.value == 100000 || datum.value == 1000000 || datum.value == 10000000", "value": "#d9d9d9"}, "value": "#efefef"}}}},
     "layer": [
      {"data": {"name": "fit"}, "transform": [{"filter": "datum.p == 'B'"}], "mark": {"type": "area", "opacity": 0.45}, "encoding": {"y": {"field": "lo", "type": "quantitative", "stack": null, "scale": {"domain": [0, 275], "nice": false}, "axis": {"title": "Stress Amplitude\u2002σ\u2009ₐ\u2002[MPa]", "values": [0,50,100,150,200,250]}}, "y2": {"field": "hi"}, "color": {"field": "series", "type": "nominal", "scale": {"domain": ["Strut-Junction 0°","Strut-Junction 15°","Strut-Junction 45°","Strut-Junction 90°"], "range": ["#ff00ff","#00ff00","#ff0000","#0000ff"]}, "legend": null}}},
      {"data": {"name": "fit"}, "transform": [{"filter": "datum.p == 'B'"}], "mark": {"type": "line", "strokeDash": [5,3], "strokeWidth": 1.3}, "encoding": {"y": {"field": "s", "type": "quantitative", "scale": {"domain": [0, 275], "nice": false}, "axis": {"title": "Stress Amplitude\u2002σ\u2009ₐ\u2002[MPa]", "values": [0,50,100,150,200,250]}}, "stroke": {"field": "series", "type": "nominal", "title": null, "scale": {"domain": ["Strut-Junction 0°","Strut-Junction 15°","Strut-Junction 45°","Strut-Junction 90°","Thin-Strut 0°","Thin-Strut 15°","Thin-Strut 45°","Thin-Strut 90°"], "range": ["#ff00ff","#00e600","#ff0000","#0000ff","#ff9cff","#9cf09c","#ff9c9c","#a0a0ff"]}}}},
      {"data": {"name": "ts"}, "transform": [{"filter": "datum.p == 'B'"}], "mark": {"type": "line", "strokeWidth": 1.1}, "encoding": {"y": {"field": "s", "type": "quantitative"}, "stroke": {"field": "series", "type": "nominal", "title": null}, "strokeDash": {"field": "series", "type": "nominal", "title": null, "scale": {"type": "ordinal", "domain": ["Strut-Junction 0°","Strut-Junction 15°","Strut-Junction 45°","Strut-Junction 90°","Thin-Strut 0°","Thin-Strut 15°","Thin-Strut 45°","Thin-Strut 90°"], "range": [[1,0],[1,0],[1,0],[1,0],[5,2.5,1.5,2.5],[5,2.5,1.5,2.5],[5,2.5,1.5,2.5],[5,2.5,1.5,2.5]]}}}},
      {"data": {"name": "pts"}, "transform": [{"filter": "datum.p == 'B'"}], "mark": {"type": "point", "opacity": 1, "strokeWidth": 1}, "encoding": {"y": {"field": "s", "type": "quantitative"}, "stroke": {"field": "series", "type": "nominal", "title": null}, "fill": {"field": "series", "type": "nominal", "title": null, "scale": {"domain": ["Strut-Junction 0°","Strut-Junction 15°","Strut-Junction 45°","Strut-Junction 90°","Thin-Strut 0°","Thin-Strut 15°","Thin-Strut 45°","Thin-Strut 90°"], "range": ["transparent","transparent","transparent","#0000ff","transparent","transparent","transparent","transparent"]}}, "shape": {"field": "series", "type": "nominal", "title": null, "scale": {"domain": ["Strut-Junction 0°","Strut-Junction 15°","Strut-Junction 45°","Strut-Junction 90°","Thin-Strut 0°","Thin-Strut 15°","Thin-Strut 45°","Thin-Strut 90°"], "range": ["M0,-1L0.62,0L0,1L-0.62,0Z","circle","M-0.7,-0.7L0.7,0.7M-0.7,0.7L0.7,-0.7","circle","M-1.9,0L1.9,0","M-1.9,0L1.9,0","M-1.9,0L1.9,0","M-1.9,0L1.9,0"]}}, "size": {"field": "series", "type": "nominal", "title": null, "scale": {"type": "ordinal", "domain": ["Strut-Junction 0°","Strut-Junction 15°","Strut-Junction 45°","Strut-Junction 90°","Thin-Strut 0°","Thin-Strut 15°","Thin-Strut 45°","Thin-Strut 90°"], "range": [55,34,30,22,100,100,100,100]}}}},
      {"data": {"name": "run"}, "transform": [{"filter": "datum.p == 'B'"}], "mark": {"type": "rule", "xOffset": 5, "x2Offset": 19, "strokeWidth": 1.2}, "encoding": {"x2": {"field": "N"}, "y": {"field": "s", "type": "quantitative"}, "stroke": {"field": "series", "type": "nominal", "title": null}}},
      {"data": {"name": "run"}, "transform": [{"filter": "datum.p == 'B'"}], "mark": {"type": "point", "shape": "M-1,-1L0,0L-1,1", "xOffset": 19, "size": 36, "opacity": 1, "filled": false, "strokeWidth": 1.2}, "encoding": {"y": {"field": "s", "type": "quantitative"}, "stroke": {"field": "series", "type": "nominal", "title": null}}}
     ]
    }
   ]
  }
 ]
},
{
 "spacing": 10,
 "resolve": {"scale": {"color": "independent", "fill": "independent", "stroke": "independent", "shape": "independent", "size": "independent", "strokeDash": "independent", "x": "independent", "y": "independent"}, "legend": {"color": "independent", "fill": "independent", "stroke": "independent", "shape": "independent", "size": "independent", "strokeDash": "independent"}},
 "hconcat": [
  {"width": 28, "height": 28, "view": {"stroke": "#333333", "strokeWidth": 1}, "data": {"values": [{"t": "(C)"}]}, "mark": {"type": "text", "fontSize": 17, "font": "Liberation Sans", "align": "center", "baseline": "middle", "color": "#000000"}, "encoding": {"text": {"field": "t", "type": "nominal"}}},
  {
   "width": 534, "height": 275,
   "title": {"text": "S-N curves: average cross-section", "frame": "group"},
   "encoding": {"x": {"field": "N", "type": "quantitative", "scale": {"type": "log", "domain": [4000, 24500000], "nice": false}, "axis": {"title": "Cycles to failure [Nf]", "values": [5000,6000,7000,8000,9000,10000,20000,30000,40000,50000,60000,70000,80000,90000,100000,200000,300000,400000,500000,600000,700000,800000,900000,1000000,2000000,3000000,4000000,5000000,6000000,7000000,8000000,9000000,10000000,20000000], "labelExpr": "datum.value == 10000 ? '10⁴' : datum.value == 100000 ? '10⁵' : datum.value == 1000000 ? '10⁶' : datum.value == 10000000 ? '10⁷' : ''", "labelOverlap": false, "gridColor": {"condition": {"test": "datum.value == 10000 || datum.value == 100000 || datum.value == 1000000 || datum.value == 10000000", "value": "#d9d9d9"}, "value": "#efefef"}}}},
   "layer": [
    {"data": {"name": "fit"}, "transform": [{"filter": "datum.p == 'C'"}], "mark": {"type": "area", "opacity": 0.45}, "encoding": {"y": {"field": "lo", "type": "quantitative", "stack": null, "scale": {"domain": [0, 275], "nice": false}, "axis": {"title": "Stress Amplitude\u2002σ\u2009ₐ\u2002[MPa]", "values": [0,50,100,150,200,250]}}, "y2": {"field": "hi"}, "color": {"field": "series", "type": "nominal", "scale": {"domain": ["Strut-Junction 0°","Strut-Junction 15°","Strut-Junction 45°","Strut-Junction 90°"], "range": ["#ff00ff","#00ff00","#ff0000","#0000ff"]}, "legend": null}}},
    {"data": {"name": "fit"}, "transform": [{"filter": "datum.p == 'C'"}], "mark": {"type": "line", "strokeDash": [5,3], "strokeWidth": 1.3}, "encoding": {"y": {"field": "s", "type": "quantitative", "scale": {"domain": [0, 275], "nice": false}, "axis": {"title": "Stress Amplitude\u2002σ\u2009ₐ\u2002[MPa]", "values": [0,50,100,150,200,250]}}, "stroke": {"field": "series", "type": "nominal", "title": null, "scale": {"domain": ["Strut-Junction 0°","Strut-Junction 15°","Strut-Junction 45°","Strut-Junction 90°","Thin-Strut 0°","Thin-Strut 15°","Thin-Strut 45°","Thin-Strut 90°"], "range": ["#ff00ff","#00e600","#ff0000","#0000ff","#ff9cff","#9cf09c","#ff9c9c","#a0a0ff"]}}}},
    {"data": {"name": "ts"}, "transform": [{"filter": "datum.p == 'C'"}], "mark": {"type": "line", "strokeWidth": 1.1}, "encoding": {"y": {"field": "s", "type": "quantitative"}, "stroke": {"field": "series", "type": "nominal", "title": null}, "strokeDash": {"field": "series", "type": "nominal", "title": null, "scale": {"type": "ordinal", "domain": ["Strut-Junction 0°","Strut-Junction 15°","Strut-Junction 45°","Strut-Junction 90°","Thin-Strut 0°","Thin-Strut 15°","Thin-Strut 45°","Thin-Strut 90°"], "range": [[1,0],[1,0],[1,0],[1,0],[5,2.5,1.5,2.5],[5,2.5,1.5,2.5],[5,2.5,1.5,2.5],[5,2.5,1.5,2.5]]}}}},
    {"data": {"name": "pts"}, "transform": [{"filter": "datum.p == 'C'"}], "mark": {"type": "point", "opacity": 1, "strokeWidth": 1}, "encoding": {"y": {"field": "s", "type": "quantitative"}, "stroke": {"field": "series", "type": "nominal", "title": null}, "fill": {"field": "series", "type": "nominal", "title": null, "scale": {"domain": ["Strut-Junction 0°","Strut-Junction 15°","Strut-Junction 45°","Strut-Junction 90°","Thin-Strut 0°","Thin-Strut 15°","Thin-Strut 45°","Thin-Strut 90°"], "range": ["transparent","transparent","transparent","#0000ff","transparent","transparent","transparent","transparent"]}}, "shape": {"field": "series", "type": "nominal", "title": null, "scale": {"domain": ["Strut-Junction 0°","Strut-Junction 15°","Strut-Junction 45°","Strut-Junction 90°","Thin-Strut 0°","Thin-Strut 15°","Thin-Strut 45°","Thin-Strut 90°"], "range": ["M0,-1L0.62,0L0,1L-0.62,0Z","circle","M-0.7,-0.7L0.7,0.7M-0.7,0.7L0.7,-0.7","circle","M-1.9,0L1.9,0","M-1.9,0L1.9,0","M-1.9,0L1.9,0","M-1.9,0L1.9,0"]}}, "size": {"field": "series", "type": "nominal", "title": null, "scale": {"type": "ordinal", "domain": ["Strut-Junction 0°","Strut-Junction 15°","Strut-Junction 45°","Strut-Junction 90°","Thin-Strut 0°","Thin-Strut 15°","Thin-Strut 45°","Thin-Strut 90°"], "range": [55,34,30,22,100,100,100,100]}}}},
    {"data": {"name": "run"}, "transform": [{"filter": "datum.p == 'C'"}], "mark": {"type": "rule", "xOffset": 5, "x2Offset": 19, "strokeWidth": 1.2}, "encoding": {"x2": {"field": "N"}, "y": {"field": "s", "type": "quantitative"}, "stroke": {"field": "series", "type": "nominal", "title": null}}},
    {"data": {"name": "run"}, "transform": [{"filter": "datum.p == 'C'"}], "mark": {"type": "point", "shape": "M-1,-1L0,0L-1,1", "xOffset": 19, "size": 36, "opacity": 1, "filled": false, "strokeWidth": 1.2}, "encoding": {"y": {"field": "s", "type": "quantitative"}, "stroke": {"field": "series", "type": "nominal", "title": null}}}
   ]
  }
 ]
}
]
}
